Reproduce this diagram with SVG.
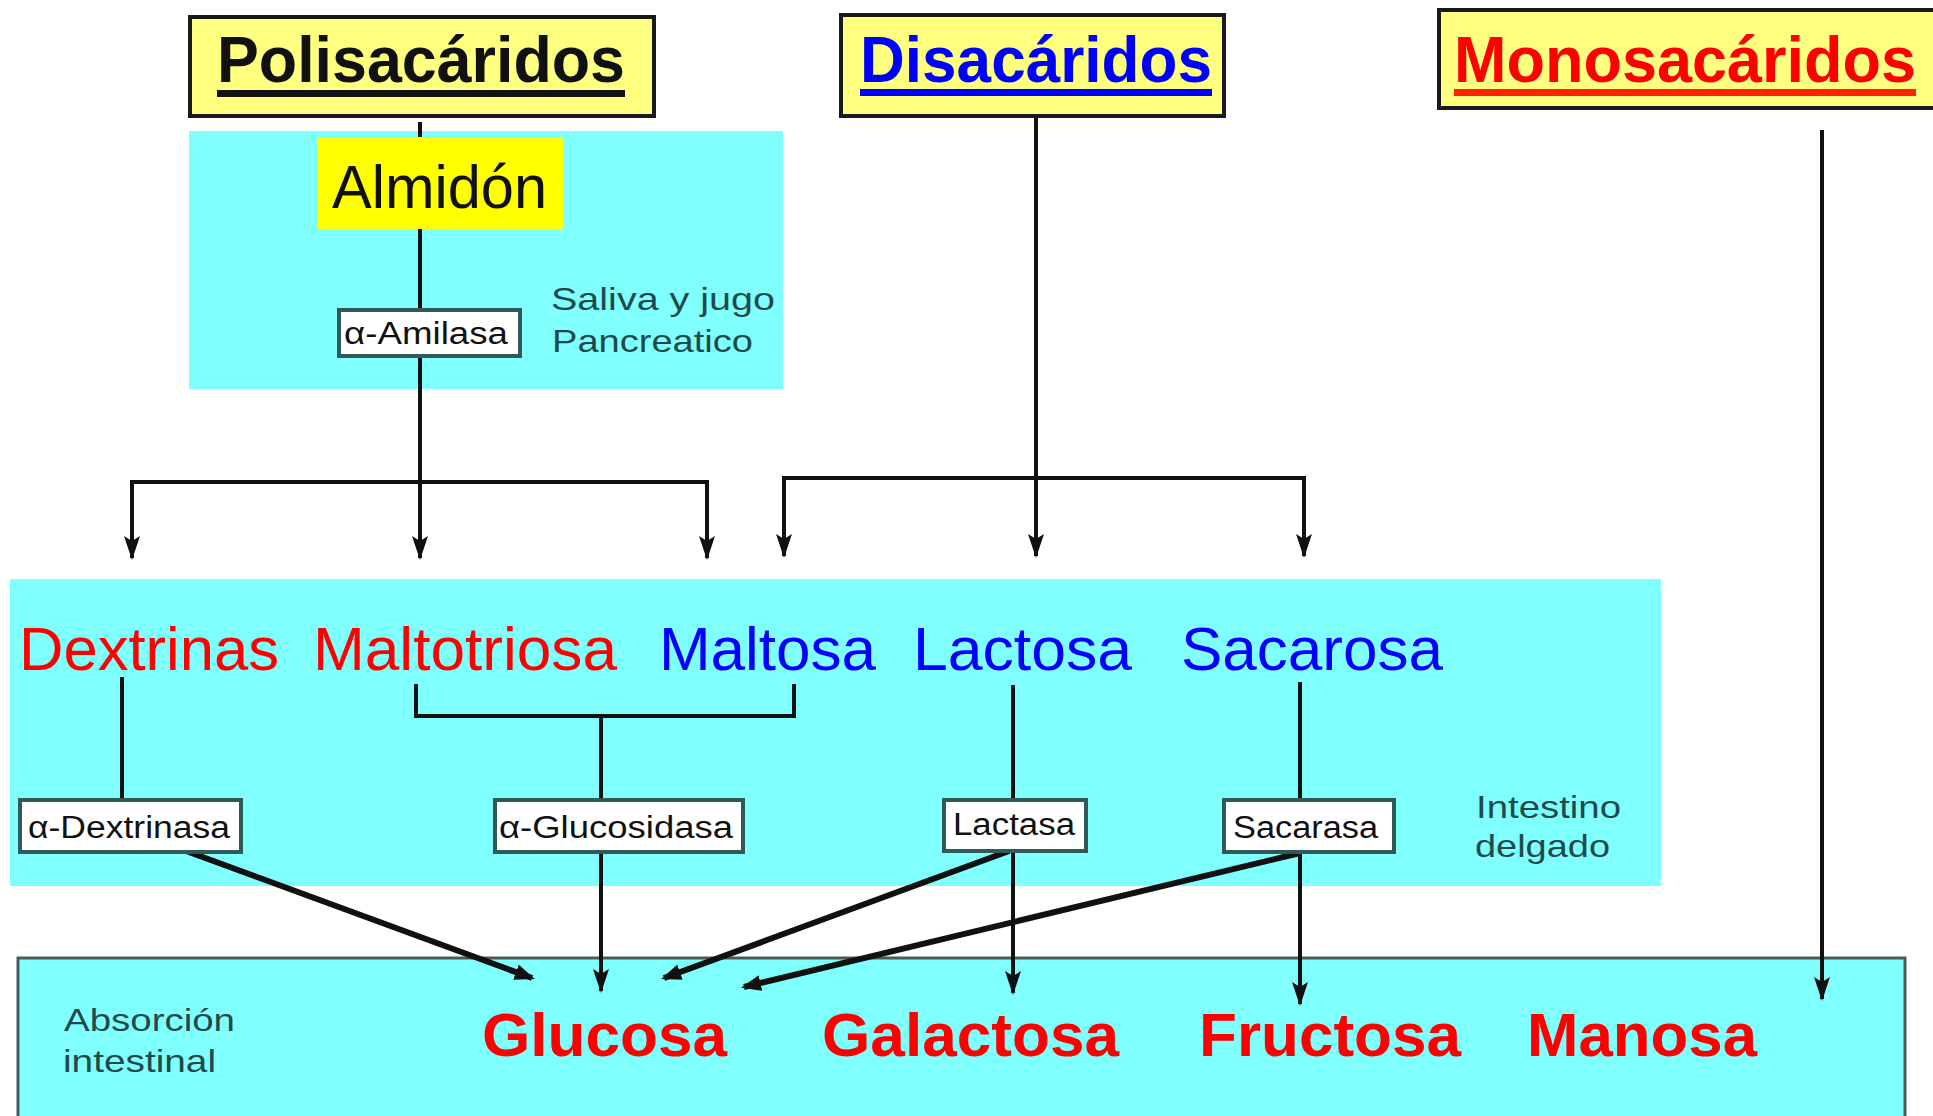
<svg xmlns="http://www.w3.org/2000/svg" width="1933" height="1116" viewBox="0 0 1933 1116">
<style>
.region{fill:#80FFFF;stroke:none}
.head{fill:#FFFF80;stroke:#1a1a1a;stroke-width:4}
.htxt{font-family:"Liberation Sans",Arial,sans-serif;font-weight:bold;font-size:64px}
.big{font-family:"Liberation Sans",Arial,sans-serif;font-size:62px}
.bold{font-weight:bold}
.red{fill:#FF0000}
.blue{fill:#0000FF}
.enz{fill:#FFFFFF;stroke:#2F5A5A;stroke-width:4}
.etxt{font-family:"Liberation Sans",Arial,sans-serif;font-size:31px;fill:#111111}
.note{font-family:"Liberation Sans",Arial,sans-serif;font-size:32px;fill:#1F4A4A}
.ln{stroke:#111111;stroke-width:4;fill:none}
.thick{stroke:#111111;stroke-width:6;fill:none}
</style>
<defs>
<marker id="arr" markerUnits="userSpaceOnUse" markerWidth="24" markerHeight="16" refX="22" refY="8" orient="auto" viewBox="0 0 24 16">
<path d="M0,0 L24,8 L0,16 L5,8 Z" fill="#111111"/>
</marker>
<marker id="arrs" markerUnits="userSpaceOnUse" markerWidth="20" markerHeight="16" refX="17" refY="8" orient="auto" viewBox="0 0 20 16">
<path d="M0,0 L20,8 L0,16 Z" fill="#111111"/>
</marker>
</defs>
<rect width="1933" height="1116" fill="#FFFFFF"/>
<g id="regions">
<rect id="saliva-region" class="region" x="189" y="131" width="594" height="258"/>
<rect id="intestino-region" class="region" x="10" y="579" width="1651" height="307"/>
<rect id="absorcion-region" x="18" y="958" width="1887" height="170" fill="#80FFFF" stroke="#4A5A5A" stroke-width="3"/>
</g>
<g id="connectors">
<line class="ln" x1="420" y1="122" x2="420" y2="482"/>
<line class="ln" x1="132" y1="482" x2="708" y2="482"/>
<line class="ln" x1="132" y1="480" x2="132" y2="558" marker-end="url(#arr)"/>
<line class="ln" x1="420" y1="480" x2="420" y2="558" marker-end="url(#arr)"/>
<line class="ln" x1="707" y1="480" x2="707" y2="558" marker-end="url(#arr)"/>
<line class="ln" x1="1036" y1="117" x2="1036" y2="556" marker-end="url(#arr)"/>
<line class="ln" x1="782" y1="478" x2="1306" y2="478"/>
<line class="ln" x1="784" y1="476" x2="784" y2="556" marker-end="url(#arr)"/>
<line class="ln" x1="1304" y1="476" x2="1304" y2="556" marker-end="url(#arr)"/>
<line class="ln" x1="1822" y1="130" x2="1822" y2="999" marker-end="url(#arr)"/>
<line class="ln" x1="122" y1="677" x2="122" y2="800"/>
<path class="ln" d="M416,684 V716 H794 V684"/>
<line class="ln" x1="601" y1="716" x2="601" y2="991" marker-end="url(#arr)"/>
<line class="ln" x1="1013" y1="685" x2="1013" y2="993" marker-end="url(#arr)"/>
<line class="ln" x1="1300" y1="682" x2="1300" y2="1004" marker-end="url(#arr)"/>
<line class="thick" x1="178" y1="848" x2="532" y2="978" marker-end="url(#arrs)"/>
<line class="thick" x1="1009" y1="851" x2="664" y2="978" marker-end="url(#arrs)"/>
<line class="thick" x1="1300" y1="853" x2="744" y2="987" marker-end="url(#arrs)"/>
</g>
<g id="polisacaridos">
<rect class="head" x="190" y="17" width="464" height="99"/>
<text class="htxt" x="217" y="82" textLength="408" lengthAdjust="spacingAndGlyphs" fill="#111111">Polisacáridos</text>
<rect x="217" y="90" width="408" height="7" fill="#111111"/>
</g>
<g id="disacaridos">
<rect class="head" x="841" y="15" width="383" height="101"/>
<text class="htxt blue" x="860" y="82" textLength="352" lengthAdjust="spacingAndGlyphs">Disacáridos</text>
<rect x="860" y="89" width="352" height="7" fill="#0000FF"/>
</g>
<g id="monosacaridos">
<rect class="head" x="1439" y="10" width="498" height="98"/>
<text class="htxt red" x="1454" y="82" textLength="462" lengthAdjust="spacingAndGlyphs">Monosacáridos</text>
<rect x="1454" y="89" width="462" height="7" fill="#FF2200"/>
</g>
<g id="almidon">
<rect x="318" y="137" width="245" height="92" fill="#FFFF00"/>
<text class="big" x="332" y="208" textLength="215" lengthAdjust="spacingAndGlyphs" fill="#111111">Almidón</text>
</g>
<g id="amilasa">
<rect class="enz" x="339" y="310" width="181" height="46"/>
<text class="etxt" x="344" y="344" textLength="164" lengthAdjust="spacingAndGlyphs">α-Amilasa</text>
</g>
<g id="saliva-label">
<text class="note" x="551" y="310" textLength="224" lengthAdjust="spacingAndGlyphs">Saliva y jugo</text>
<text class="note" x="552" y="352" textLength="201" lengthAdjust="spacingAndGlyphs">Pancreatico</text>
</g>
<g id="dextrinas"><text class="big red" x="19" y="670" textLength="260" lengthAdjust="spacingAndGlyphs">Dextrinas</text></g>
<g id="maltotriosa"><text class="big red" x="313" y="670" textLength="304" lengthAdjust="spacingAndGlyphs">Maltotriosa</text></g>
<g id="maltosa"><text class="big blue" x="659" y="670" textLength="217" lengthAdjust="spacingAndGlyphs">Maltosa</text></g>
<g id="lactosa"><text class="big blue" x="913" y="670" textLength="219" lengthAdjust="spacingAndGlyphs">Lactosa</text></g>
<g id="sacarosa"><text class="big blue" x="1181" y="670" textLength="262" lengthAdjust="spacingAndGlyphs">Sacarosa</text></g>
<g id="dextrinasa">
<rect class="enz" x="20" y="800" width="221" height="52"/>
<text class="etxt" x="28" y="838" textLength="202" lengthAdjust="spacingAndGlyphs">α-Dextrinasa</text>
</g>
<g id="glucosidasa">
<rect class="enz" x="495" y="800" width="248" height="52"/>
<text class="etxt" x="499" y="838" textLength="234" lengthAdjust="spacingAndGlyphs">α-Glucosidasa</text>
</g>
<g id="lactasa">
<rect class="enz" x="944" y="800" width="142" height="51"/>
<text class="etxt" x="953" y="835" textLength="122" lengthAdjust="spacingAndGlyphs">Lactasa</text>
</g>
<g id="sacarasa">
<rect class="enz" x="1224" y="800" width="170" height="52"/>
<text class="etxt" x="1233" y="838" textLength="145" lengthAdjust="spacingAndGlyphs">Sacarasa</text>
</g>
<g id="intestino-label">
<text class="note" x="1476" y="818" textLength="145" lengthAdjust="spacingAndGlyphs">Intestino</text>
<text class="note" x="1475" y="857" textLength="135" lengthAdjust="spacingAndGlyphs">delgado</text>
</g>
<g id="absorcion-label">
<text class="note" x="64" y="1031" textLength="171" lengthAdjust="spacingAndGlyphs">Absorción</text>
<text class="note" x="63" y="1072" textLength="153" lengthAdjust="spacingAndGlyphs">intestinal</text>
</g>
<g id="glucosa"><text class="big bold red" x="482" y="1056" textLength="245" lengthAdjust="spacingAndGlyphs">Glucosa</text></g>
<g id="galactosa"><text class="big bold red" x="822" y="1056" textLength="297" lengthAdjust="spacingAndGlyphs">Galactosa</text></g>
<g id="fructosa"><text class="big bold red" x="1199" y="1056" textLength="262" lengthAdjust="spacingAndGlyphs">Fructosa</text></g>
<g id="manosa"><text class="big bold red" x="1527" y="1056" textLength="230" lengthAdjust="spacingAndGlyphs">Manosa</text></g>
</svg>
